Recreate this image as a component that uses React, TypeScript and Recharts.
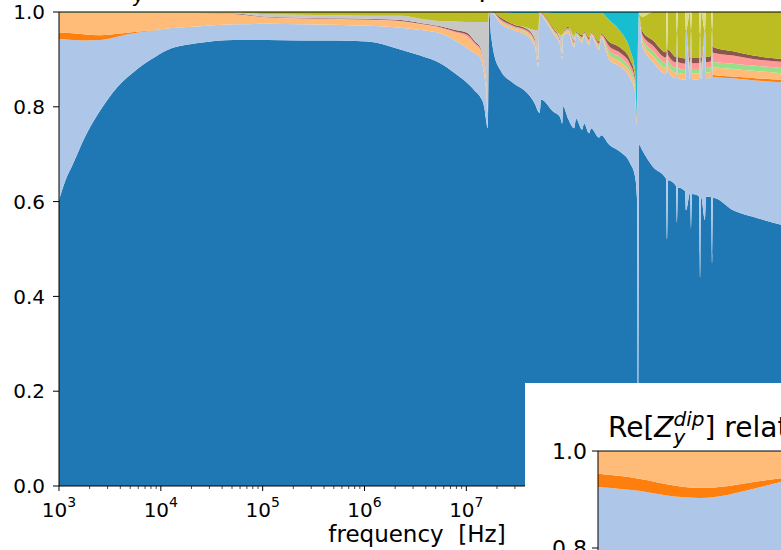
import { AreaChart, Area, XAxis, YAxis, ReferenceLine } from 'recharts'

// frequency samples [Hz] (log spaced, denser around the resonances)
const freq = [
  1e3, 1.158e3, 1.357e3, 1.74e3, 2.555e3, 3.751e3, 5.384e3, 7.908e3, 1.161e4, 2.447e4,
  5.158e4, 1.112e5, 2.344e5, 4.94e5, 1.065e6, 2.245e6, 3.528e6, 5.543e6, 7.783e6, 1.02e7,
  1.223e7, 1.369e7, 1.498e7, 1.568e7, 1.622e7, 1.678e7, 1.755e7, 1.837e7, 2.151e7, 2.886e7,
  3.96e7, 4.745e7, 5.076e7, 5.25e7, 5.433e7, 7.124e7, 8.348e7, 8.733e7, 8.932e7, 1e8,
  1.145e8, 1.198e8, 1.372e8, 1.436e8, 1.607e8, 1.682e8, 2.015e8, 2.108e8, 2.528e8, 3.237e8,
  4.059e8, 4.545e8, 4.755e8, 4.864e8, 4.976e8, 5.325e8, 6.828e8, 9.156e8, 9.365e8, 9.579e8,
  1.148e9, 1.174e9, 1.201e9, 1.407e9, 1.439e9, 1.574e9, 1.611e9, 1.648e9, 1.931e9, 1.975e9,
  2.02e9, 2.211e9, 2.262e9, 2.531e9, 2.589e9, 2.648e9, 4.161e9, 6.538e9, 1.231e10,
]

const darkBlue = [
  .603, .645, .677, .730, .793, .842, .873, .899, .920, .935,
  .941, .941, .940, .940, .938, .921, .908, .892, .870, .850,
  .833, .821, .800, .770, .755, 1, .950, .920, .878, .850,
  .829, .805, .790, .787, .815, .790, .778, .765, .800, .775,
  .755, .775, .752, .765, .744, .755, .735, .740, .720, .705,
  .681, .652, .603, .020, .720, .709, .673, .648, .520, .645,
  .633, .555, .630, .622, .582, .618, .540, .616, .611, .440,
  .610, .561, .610, .610, .470, .608, .582, .568, .551,
]
const lightBlue = [
  .340, .297, .264, .210, .148, .106, .082, .061, .045, .035,
  .033, .034, .034, .033, .033, .046, .054, .063, .070, .074,
  .079, .084, .068, .065, .035, 0, .048, .076, .099, .112,
  .121, .120, .095, .213, .180, .165, .152, .135, .150, .180,
  .170, .175, .183, .185, .186, .195, .185, .205, .180, .180,
  .179, .178, .157, .930, .270, .221, .222, .222, .400, .230,
  .227, .400, .230, .235, .380, .240, .420, .242, .247, .514,
  .248, .400, .250, .252, .492, .255, .278, .288, .301,
]
const orange = [
  .014, .014, .014, .013, .010, .006, .003, .001, 0, 0,
  0, 0, 0, 0, 0, 0, 0, 0, 0, 0,
  0, 0, 0, 0, 0, 0, 0, 0, 0, 0,
  0, 0, 0, 0, 0, 0, 0, 0, 0, 0,
  0, 0, 0, 0, 0, 0, 0, 0, 0, 0,
  0, 0, 0, 0, 0, 0, 0, 0, 0, 0,
  0, 0, 0, 0, 0, 0, 0, 0, 0, 0,
  0, 0, 0, 0, 0, .004, .004, .005, .005,
]
const lightOrange = [
  .041, .042, .043, .045, .047, .044, .040, .037, .033, .028,
  .022, .013, .012, .012, .012, .013, .012, .011, .016, .023,
  .018, .015, .012, .010, .008, 0, .001, .001, .003, .004,
  .005, .005, .004, 0, .001, .004, .004, .003, .002, .004,
  .004, .002, .005, .003, .005, .002, .005, .003, .010, .010,
  .011, .010, .006, 0, 0, .009, .012, .012, 0, .012,
  .012, 0, .012, .012, 0, .012, 0, .012, .012, 0,
  .012, 0, .012, .012, 0, .017, .016, .015, .014,
]
const lightGreen = [
  0, 0, 0, 0, 0, 0, 0, 0, 0, 0,
  0, 0, 0, 0, 0, 0, 0, 0, 0, 0,
  0, 0, 0, 0, 0, 0, 0, .001, .002, .002,
  .003, .003, .003, 0, .001, .002, .002, .002, .001, .003,
  .003, .002, .003, .002, .003, .002, .004, .002, .008, .009,
  .009, .008, .005, 0, 0, .006, .010, .010, 0, .010,
  .010, 0, .010, .010, 0, .010, 0, .010, .010, 0,
  .010, 0, .010, .010, 0, .011, .011, .011, .011,
]
const pink = [
  0, 0, 0, 0, 0, 0, 0, 0, 0, 0,
  0, .001, .001, .001, .001, .001, .001, .002, .003, .005,
  .004, .003, .003, .002, 0, 0, 0, .001, .003, .003,
  .003, .004, .003, 0, .001, .003, .003, .002, .002, .004,
  .004, .002, .004, .002, .004, .002, .005, .002, .010, .010,
  .010, .009, .005, 0, 0, .008, .012, .012, 0, .012,
  .012, 0, .012, .012, 0, .012, 0, .012, .012, 0,
  .012, 0, .012, .012, 0, .019, .017, .014, .013,
]
const brown = [
  0, 0, 0, 0, 0, 0, 0, 0, 0, 0,
  .001, .001, .001, .001, .002, .002, .002, .002, .003, .004,
  .003, .003, .002, .002, 0, 0, 0, .001, .004, .003,
  .003, .004, .003, 0, .001, .003, .003, .003, .002, .003,
  .003, .002, .004, .002, .004, .002, .004, .002, .009, .011,
  .010, .008, .004, 0, 0, .007, .011, .011, 0, .011,
  .011, 0, .011, .011, 0, .011, 0, .011, .011, 0,
  .011, 0, .011, .011, 0, .012, .009, .007, .006,
]
const lightGray = [
  .001, .001, .001, .001, .001, .001, .001, .001, .001, .001,
  .002, .005, .006, .006, .006, .009, .009, .011, .018, .023,
  .042, .053, .094, .130, .181, 0, 0, 0, 0, 0,
  .003, .021, .064, 0, 0, 0, .010, .040, 0, 0,
  .010, 0, 0, 0, 0, 0, 0, 0, 0, 0,
  0, 0, 0, 0, 0, 0, 0, 0, 0, 0,
  0, 0, 0, 0, 0, 0, 0, 0, 0, 0,
  0, 0, 0, 0, 0, 0, 0, 0, 0,
]
const olive = [
  .001, .001, .001, .001, .001, .001, .001, .001, .001, .001,
  .001, .005, .006, .007, .008, .008, .014, .019, .020, .021,
  .021, .021, .021, .021, .021, 0, .001, 0, .011, .024,
  .031, .036, .036, 0, .001, .031, .046, .048, .041, .029,
  .049, .040, .047, .039, .052, .040, .060, .044, .046, .035,
  .020, .010, 0, 0, .005, .030, .060, .085, 0, .080,
  .095, 0, .095, .098, 0, .097, 0, .097, .097, 0,
  .097, 0, .095, .093, 0, .074, .083, .092, .099,
]
const lightOlive = [
  0, 0, 0, 0, 0, 0, 0, 0, 0, 0,
  0, 0, 0, 0, 0, 0, 0, 0, 0, 0,
  0, 0, 0, 0, 0, 0, 0, 0, 0, 0,
  0, 0, 0, 0, 0, 0, 0, 0, 0, 0,
  0, 0, 0, 0, 0, 0, 0, 0, 0, 0,
  0, 0, 0, 0, .005, .010, 0, 0, .080, 0,
  0, .045, 0, 0, .038, 0, .040, 0, 0, .046,
  0, .039, 0, 0, .038, 0, 0, 0, 0,
]
const cyan = [
  0, 0, 0, 0, 0, 0, 0, 0, 0, 0,
  0, 0, 0, 0, 0, 0, 0, 0, 0, 0,
  0, 0, 0, 0, 0, 0, 0, 0, 0, .002,
  .002, .002, .002, 0, 0, .002, .002, .002, .002, .002,
  .002, .002, .002, .002, .002, .002, .002, .002, .017, .040,
  .080, .125, .220, .050, 0, 0, 0, 0, 0, 0,
  0, 0, 0, 0, 0, 0, 0, 0, 0, 0,
  0, 0, 0, 0, 0, 0, 0, 0, 0,
]

// inset (low frequency zoom of another case)
const insetFreq = [1e3, 1.6e3, 2.4e3, 3.24e3, 4.5e3, 6e3, 8.2e3, 1.5e4, 1e5]
const insetDarkBlue = [.600, .605, .610, .615, .620, .630, .640, .660, .700]
const insetLightBlue = [.326, .313, .296, .288, .290, .292, .296, .295, .270]
const insetOrange = [.027, .025, .023, .021, .018, .014, .008, .003, 0]
const insetLightOrange = [.047, .057, .071, .076, .072, .064, .056, .042, .030]

const yTicks = [0, 0.2, 0.4, 0.6, 0.8, 1.0]
const majorTicks = [1e3, 1e4, 1e5, 1e6, 1e7, 1e8, 1e9, 1e10]
const minorTicks = majorTicks.slice(0, -1).flatMap((m) => [2, 3, 4, 5, 6, 7, 8, 9].map((k) => k * m))

const FONT = 'DejaVu Sans'

const series = [
  { key: 'darkBlue', vals: darkBlue, color: '#1f77b4' },
  { key: 'lightBlue', vals: lightBlue, color: '#aec7e8' },
  { key: 'orange', vals: orange, color: '#ff7f0e' },
  { key: 'lightOrange', vals: lightOrange, color: '#ffbb78' },
  { key: 'lightGreen', vals: lightGreen, color: '#98df8a' },
  { key: 'pink', vals: pink, color: '#ff9896' },
  { key: 'brown', vals: brown, color: '#8c564b' },
  { key: 'lightGray', vals: lightGray, color: '#c7c7c7' },
  { key: 'olive', vals: olive, color: '#bcbd22' },
  { key: 'lightOlive', vals: lightOlive, color: '#dbdb8d' },
  { key: 'cyan', vals: cyan, color: '#17becf' },
]

const data = freq.map((f, i) => {
  const row: Record<string, number> = { f }
  series.forEach((s) => (row[s.key] = s.vals[i]))
  return row
})

const insetSeries = [
  { key: 'darkBlue', vals: insetDarkBlue, color: '#1f77b4' },
  { key: 'lightBlue', vals: insetLightBlue, color: '#aec7e8' },
  { key: 'orange', vals: insetOrange, color: '#ff7f0e' },
  { key: 'lightOrange', vals: insetLightOrange, color: '#ffbb78' },
]
const insetData = insetFreq.map((f, i) => {
  const row: Record<string, number> = { f }
  insetSeries.forEach((s) => (row[s.key] = s.vals[i]))
  return row
})

const isMajor = (v: number) => Math.abs(Math.log10(v) - Math.round(Math.log10(v))) < 1e-6

function FreqTick(props: any) {
  const { x, y, payload } = props
  const v = payload.value
  const major = isMajor(v)
  return (
    <g>
      <line x1={x} x2={x} y1={y} y2={y + (major ? 5 : 3)} stroke="#000" strokeWidth={major ? 1 : 0.7} />
      {major && (
        <text x={x} y={y + 31} textAnchor="middle" fontSize={20} fontFamily={FONT} fill="#000">
          10<tspan dy={-10} fontSize={14}>{Math.round(Math.log10(v))}</tspan>
        </text>
      )}
    </g>
  )
}

function Title({ x, y, size }: { x: number; y: number; size: number }) {
  const sub = Math.round(size * 0.7)
  return (
    <text x={x} y={y} fontSize={size} fontFamily={FONT} fill="#000">
      Re[<tspan fontStyle="italic">Z</tspan>
      <tspan fontStyle="italic" fontSize={sub} dy={size * 0.24}>y</tspan>
      <tspan fontStyle="italic" fontSize={sub} dx={-sub * 0.59} dy={-size * 0.62}>dip</tspan>
      <tspan dy={size * 0.38}>] relative contributions per mode</tspan>
    </text>
  )
}

export default function App() {
  return (
    <div style={{ position: 'absolute', left: 0, top: 0, width: 781, height: 550, overflow: 'hidden', background: '#fff' }}>
      <AreaChart width={781} height={550} data={data} margin={{ top: 12, right: 0, left: 0, bottom: 24 }}>
        <XAxis
          dataKey="f"
          type="number"
          scale="log"
          domain={[1e3, 1.231e10]}
          allowDataOverflow
          ticks={[...majorTicks, ...minorTicks]}
          interval={0}
          tick={<FreqTick />}
          tickLine={false}
          tickSize={0}
          tickMargin={0}
          height={40}
          axisLine={{ stroke: '#000' }}
        />
        <YAxis
          type="number"
          domain={[0, 1]}
          allowDataOverflow
          ticks={yTicks}
          tickFormatter={(v: number) => v.toFixed(1)}
          tick={{ fontSize: 20, fill: '#000', fontFamily: FONT }}
          tickSize={6}
          tickMargin={8}
          width={59}
          axisLine={{ stroke: '#000' }}
          tickLine={{ stroke: '#000' }}
        />
        {series.map((s) => (
          <Area
            key={s.key}
            dataKey={s.key}
            stackId="1"
            type="monotoneX"
            fill={s.color}
            fillOpacity={1}
            stroke="none"
            dot={false}
            activeDot={false}
            isAnimationActive={false}
          />
        ))}
        <ReferenceLine y={1} stroke="#000" strokeWidth={1} />
      </AreaChart>

      <svg width={781} height={550} style={{ position: 'absolute', left: 0, top: 0, pointerEvents: 'none', overflow: 'visible' }}>
        <Title x={70} y={-4} size={27} />
        <text x={417} y={542} textAnchor="middle" fontSize={23} fontFamily={FONT} fill="#000" style={{ whiteSpace: 'pre' }}>
          frequency  [Hz]
        </text>
      </svg>

      <div style={{ position: 'absolute', left: 525, top: 383, width: 600, height: 700, background: '#fff' }}>
        <AreaChart width={473} height={593} data={insetData} margin={{ top: 68, right: 0, left: 0, bottom: 40 }}>
          <XAxis dataKey="f" type="number" scale="log" domain={[1e3, 1e5]} allowDataOverflow hide />
          <YAxis
            type="number"
            domain={[0, 1]}
            allowDataOverflow
            ticks={yTicks}
            tickFormatter={(v: number) => v.toFixed(1)}
            tick={{ fontSize: 22, fill: '#000', fontFamily: FONT }}
            tickSize={6}
            tickMargin={5}
            width={73}
            axisLine={{ stroke: '#000' }}
            tickLine={{ stroke: '#000' }}
          />
          {insetSeries.map((s) => (
            <Area
              key={s.key}
              dataKey={s.key}
              stackId="1"
              type="monotoneX"
              fill={s.color}
              fillOpacity={1}
              stroke="none"
              dot={false}
              activeDot={false}
              isAnimationActive={false}
            />
          ))}
          <ReferenceLine y={1} stroke="#000" strokeWidth={1} />
        </AreaChart>
        <svg width={260} height={80} style={{ position: 'absolute', left: 0, top: 0, pointerEvents: 'none' }}>
          <Title x={83} y={54} size={28} />
        </svg>
      </div>
    </div>
  )
}
